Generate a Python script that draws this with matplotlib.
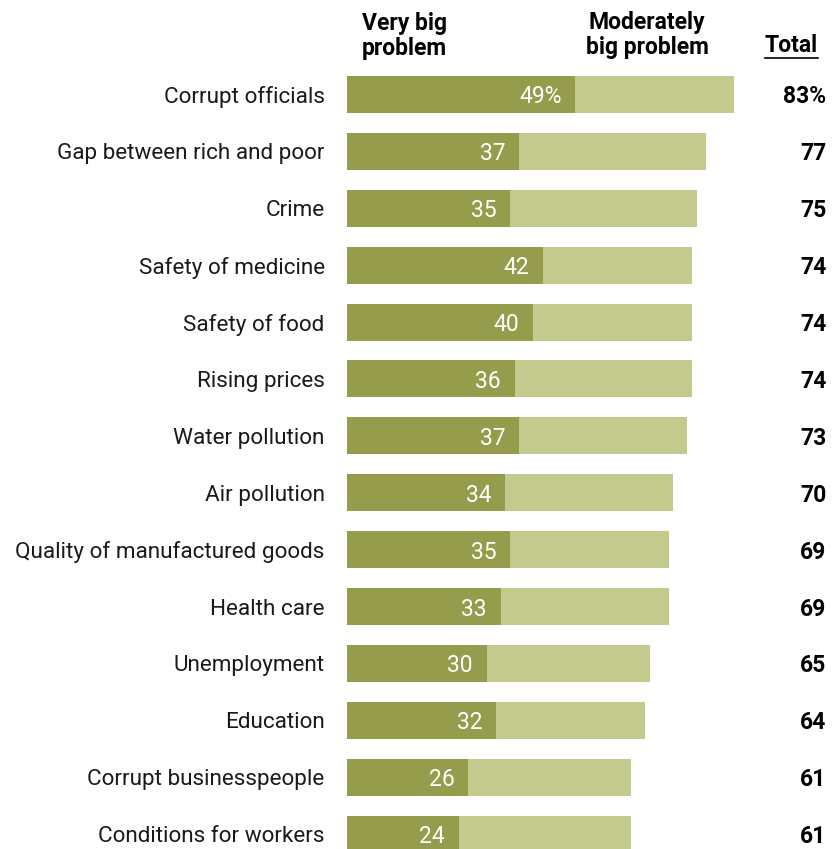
import matplotlib.pyplot as plt
from matplotlib.lines import Line2D

plt.rcParams['font.family'] = ['Roboto', 'DejaVu Sans']

categories = ['Corrupt officials', 'Gap between rich and poor', 'Crime',
              'Safety of medicine', 'Safety of food', 'Rising prices',
              'Water pollution', 'Air pollution',
              'Quality of manufactured goods', 'Health care', 'Unemployment',
              'Education', 'Corrupt businesspeople', 'Conditions for workers']
very_big = [49, 37, 35, 42, 40, 36, 37, 34, 35, 33, 30, 32, 26, 24]
totals = [83, 77, 75, 74, 74, 74, 73, 70, 69, 69, 65, 64, 61, 61]
moderately = [t - v for t, v in zip(totals, very_big)]

dark = '#959c4b'
light = '#c4ca8e'

fig = plt.figure(figsize=(8.34, 8.49), dpi=100)
ax = fig.add_axes([0.416, 0.0, 0.559, 0.9223])

y = list(range(len(categories)))
ax.barh(y, very_big, height=0.65, color=dark)
ax.barh(y, moderately, left=very_big, height=0.65, color=light)

ax.set_xlim(0, 100)
ax.set_ylim(13.26, -0.5)
ax.axis('off')

for i, (cat, v, t) in enumerate(zip(categories, very_big, totals)):
    ax.annotate(cat, (0, i), xytext=(-16, 0), textcoords='offset points',
                ha='right', va='center_baseline', fontsize=16.2, color='#1a1a1a')
    lab = f'{v}%' if i == 0 else str(v)
    ax.annotate(lab, (v, i), xytext=(-10, 0), textcoords='offset points',
                ha='right', va='center_baseline', fontsize=16.5, color='white')
    tlab = f'{t}%' if i == 0 else str(t)
    ax.text(102.8, i, tlab, ha='right', va='center_baseline', fontsize=16.5,
            fontweight='bold', color='black', clip_on=False)

fig.text(404 / 834, 1 - 36 / 849, 'Very big\nproblem', ha='center', va='center',
         fontsize=16.5, fontweight='bold', linespacing=1.15)
fig.text(647 / 834, 1 - 35 / 849, 'Moderately\nbig problem', ha='center', va='center',
         fontsize=16.5, fontweight='bold', linespacing=1.15)
fig.text(791 / 834, 1 - 46 / 849, 'Total', ha='center', va='center',
         fontsize=16.5, fontweight='bold')
fig.add_artist(Line2D([765 / 834, 818 / 834], [1 - 58 / 849, 1 - 58 / 849],
                      color='black', lw=1.2))

fig.savefig('out.png', dpi=100)
